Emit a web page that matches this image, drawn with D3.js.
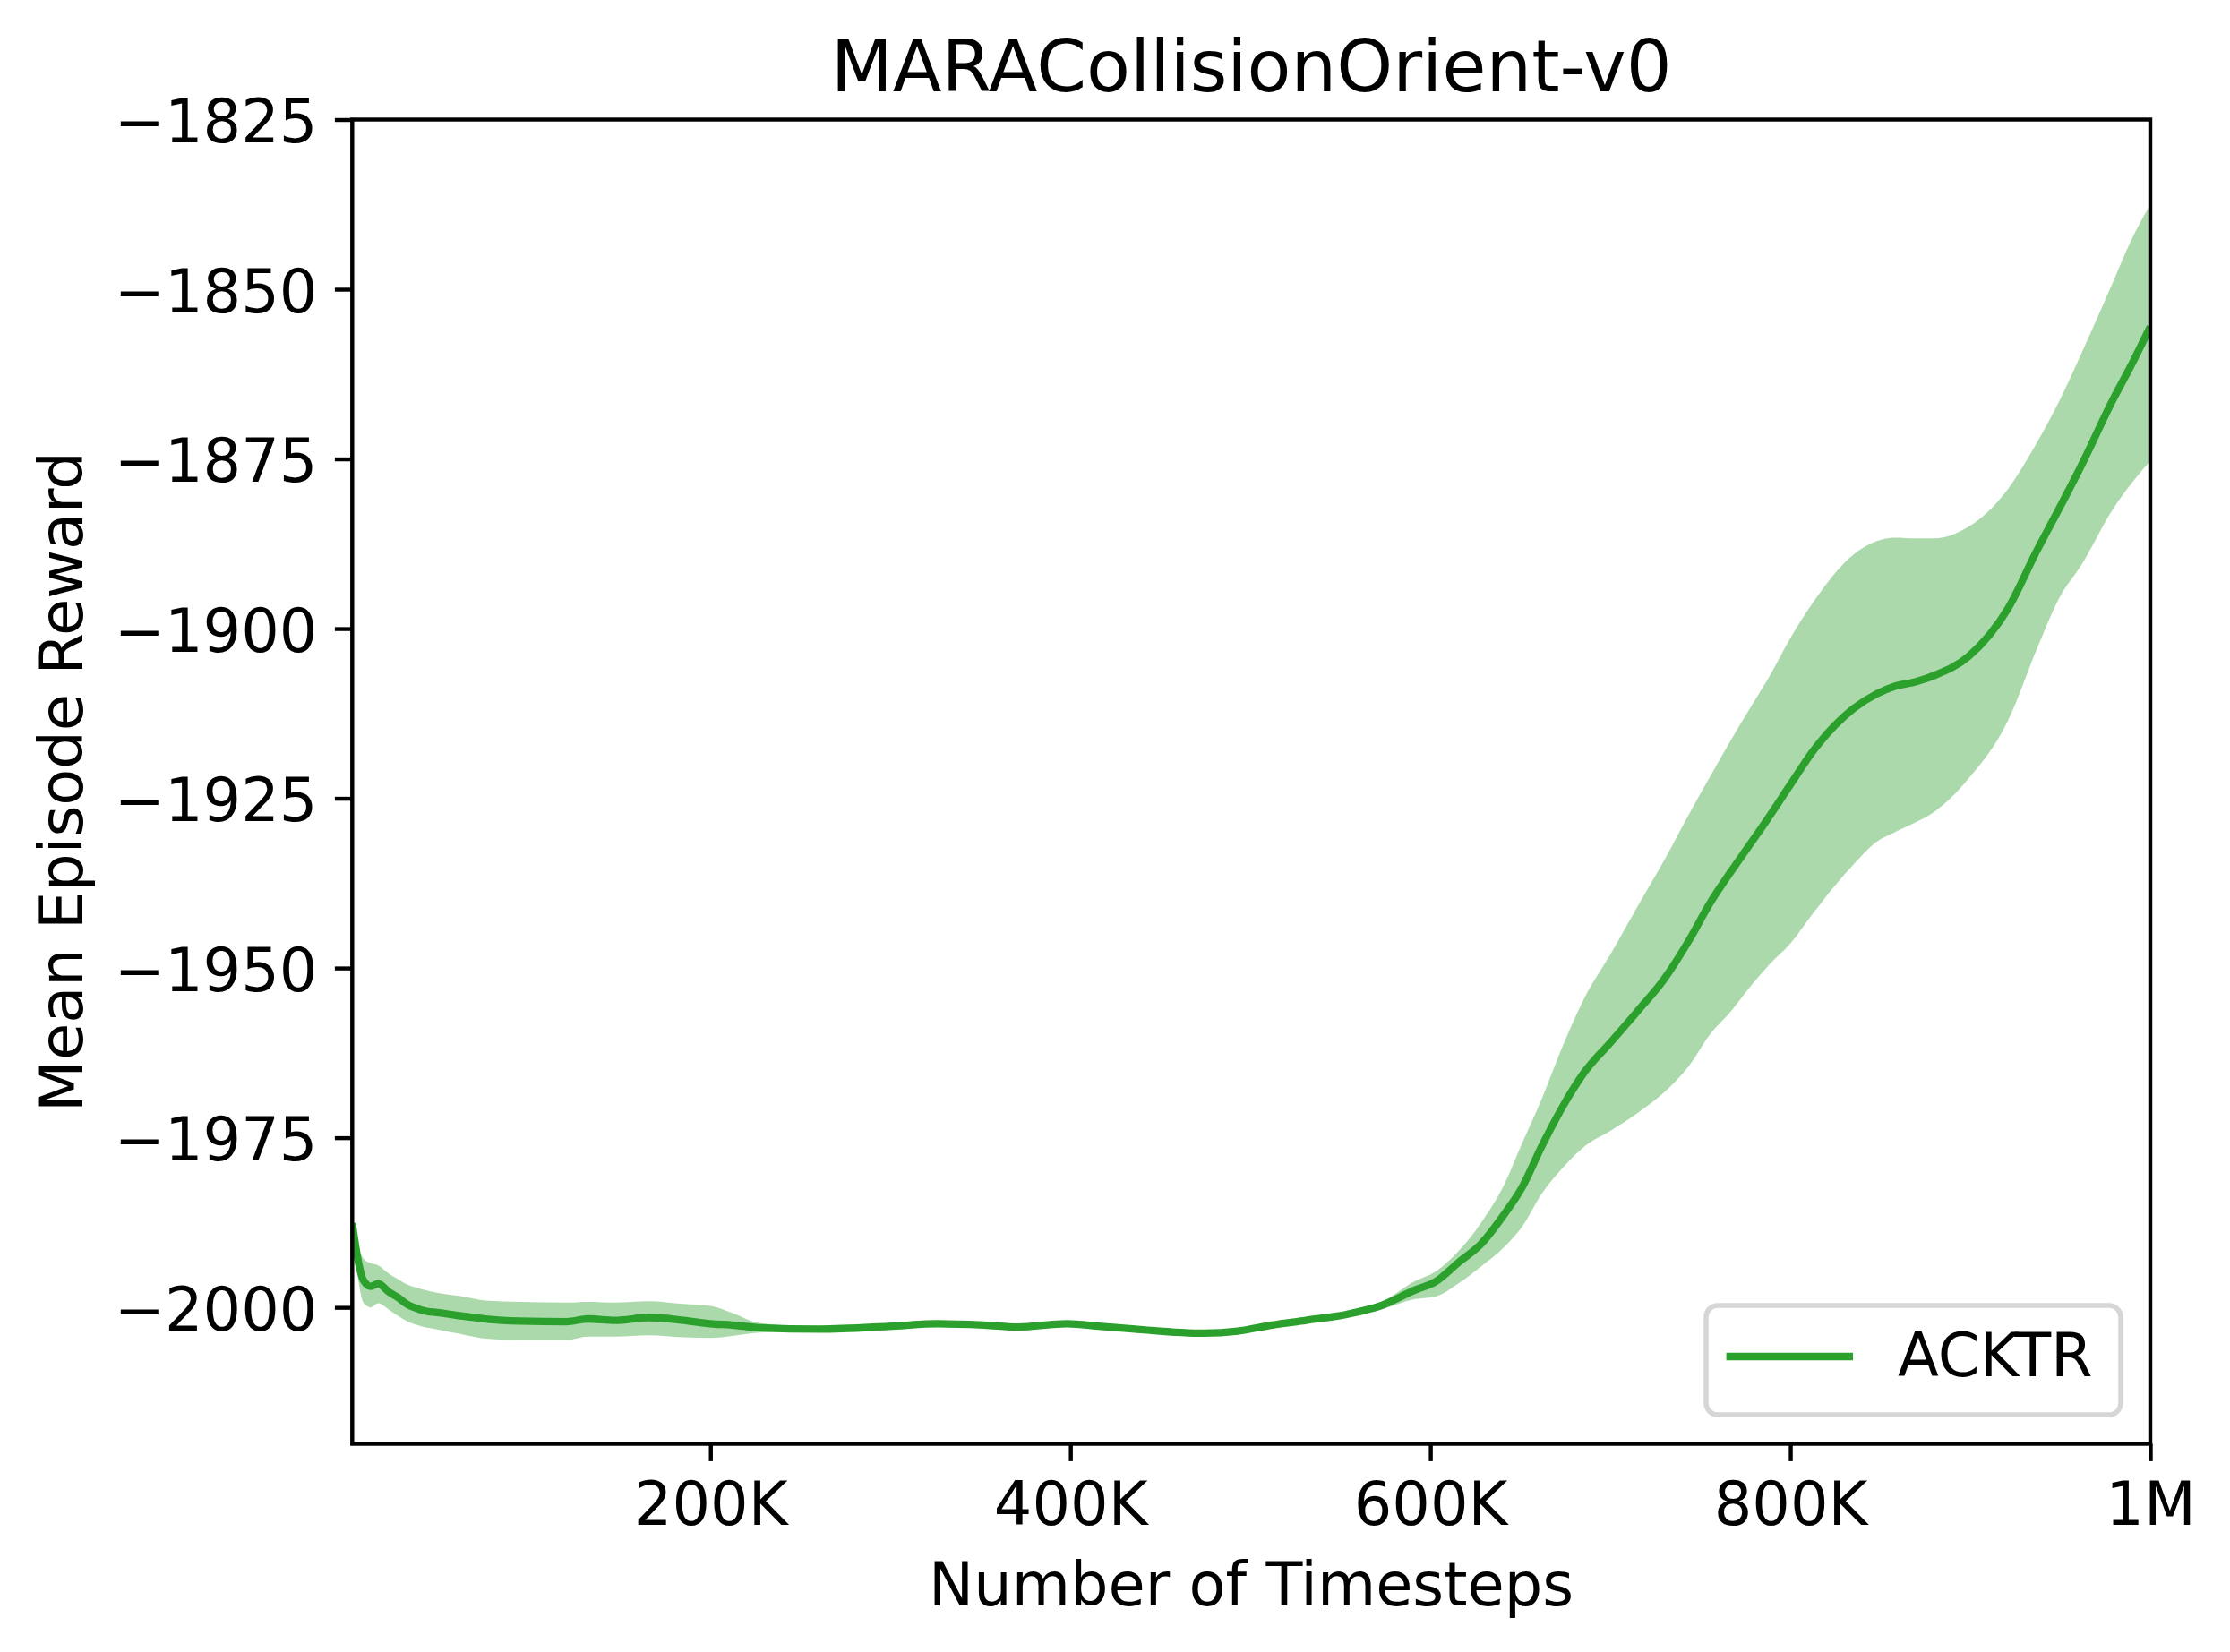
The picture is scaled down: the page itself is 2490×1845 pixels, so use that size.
<!DOCTYPE html>
<html>
<head>
<meta charset="utf-8">
<script src="https://d3js.org/d3.v7.min.js"></script>
<style>
  body { margin: 0; background: #fff; }
  text { font-family: "DejaVu Sans", sans-serif; fill: #000; }
</style>
</head>
<body>
<div id="svgcanvas"></div>
<script>
// MARACollisionOrient-v0 - ACKTR learning curve

var timesteps = [1, 4.7, 7.2, 11.3, 15.4, 21.2, 26.2, 31.2, 39.5, 49.4, 62.7, 75, 94, 120, 132, 147, 166, 185,
  200, 212, 227, 261, 299, 326, 352, 371, 398, 417, 436, 474, 493, 512, 531, 554, 573, 591, 603, 616, 628,
  641, 651, 662, 674, 686, 700, 715, 730, 744, 755, 767, 777, 788, 800, 813, 835, 848, 858, 870, 880, 899,
  921, 937, 949, 962, 979, 989, 1000];

// mean episode reward
var meanReward = [-1987.6, -1993.7, -1996.0, -1996.9, -1996.5, -1997.7, -1998.5, -1999.5, -2000.4, -2000.8,
  -2001.3, -2001.7, -2002.0, -2002.1, -2001.7, -2001.9, -2001.5, -2001.9, -2002.4, -2002.6, -2003.0, -2003.2,
  -2002.8, -2002.4, -2002.6, -2002.9, -2002.4, -2002.8, -2003.2, -2003.8, -2003.5, -2002.6, -2001.9, -2001.0,
  -1999.7, -1997.5, -1996.2, -1993.3, -1990.7, -1986.3, -1982.3, -1976.2, -1970.2, -1965.2, -1961.0, -1956.4,
  -1951.6, -1945.8, -1940.6, -1935.8, -1932.0, -1927.8, -1923.0, -1917.9, -1911.8, -1909.6, -1908.5, -1907.8,
  -1906.9, -1904.1, -1897.0, -1888.5, -1882.5, -1875.8, -1866.4, -1861.4, -1855.5];

// upper and lower edge of the shaded band
var upperReward = [-1987.6, -1991.4, -1992.8, -1993.5, -1993.8, -1995.0, -1995.8, -1996.6, -1997.3, -1997.9,
  -1998.4, -1999.0, -1999.2, -1999.3, -1999.2, -1999.3, -1999.1, -1999.5, -1999.8, -2000.8, -2002.3, -2002.9,
  -2002.5, -2002.1, -2002.3, -2002.6, -2002.1, -2002.5, -2002.9, -2003.5, -2003.2, -2002.3, -2001.6, -2000.6,
  -1999.2, -1996.2, -1994.7, -1991.6, -1987.6, -1981.9, -1975.8, -1969.2, -1961.2, -1954.2, -1948.0, -1941.0,
  -1934.1, -1927.2, -1922.0, -1916.4, -1912.0, -1907.2, -1901.4, -1896.0, -1889.1, -1887.1, -1886.6, -1886.7,
  -1886.7, -1885.0, -1879.4, -1872.6, -1866.7, -1859.3, -1849.1, -1843.0, -1837.5];

var lowerReward = [-1987.6, -1996.5, -1999.3, -2000.0, -1999.4, -2000.3, -2001.2, -2002.0, -2002.8, -2003.3,
  -2004.0, -2004.6, -2004.8, -2004.8, -2004.3, -2004.3, -2004.1, -2004.4, -2004.5, -2004.2, -2003.7, -2003.5,
  -2003.1, -2002.7, -2002.9, -2003.2, -2002.7, -2003.1, -2003.5, -2004.1, -2003.8, -2002.9, -2002.2, -2001.4,
  -2000.3, -1998.8, -1998.4, -1996.4, -1994.0, -1991.1, -1988.1, -1983.2, -1979.3, -1976.2, -1974.0, -1971.4,
  -1968.3, -1964.3, -1959.9, -1956.4, -1953.0, -1949.6, -1946.4, -1941.8, -1934.8, -1931.4, -1930.0, -1928.5,
  -1927.0, -1922.1, -1913.5, -1903.0, -1895.7, -1890.5, -1882.5, -1878.8, -1875.3];

// tick positions and labels
var xTicks = [200000, 400000, 600000, 800000, 1000000];
var xTickLabels = ["200K", "400K", "600K", "800K", "1M"];
var yTicks = [-2000, -1975, -1950, -1925, -1900, -1875, -1850, -1825];

var seriesName = "ACKTR";
var green = "#2ca02c";

//Canvas size and plot box (note: "top" is taken by window.top, so prefix them)
var WIDTH = 2490, HEIGHT = 1845;
var plotLeft = 393.3, plotRight = 2401, plotTop = 133.5, plotBottom = 1612.5;
var fs = 67;           // 12pt at 400 dpi
var tickLen = 19.4, lw = 4.44;

var svg = d3.select("#svgcanvas").append("svg")
            .attr("width", WIDTH)
            .attr("height", HEIGHT);

var x = d3.scaleLinear().domain([1000, 1000000]).range([plotLeft, plotRight]);
var y = d3.scaleLinear().domain([-2020.1, -1825]).range([plotBottom, plotTop]);

var points = timesteps.map(function(t, i) {
  return {t: t * 1000, m: meanReward[i], hi: upperReward[i], lo: lowerReward[i]};
});

svg.append("defs").append("clipPath").attr("id", "plotclip")
  .append("rect").attr("x", plotLeft).attr("y", plotTop)
  .attr("width", plotRight - plotLeft).attr("height", plotBottom - plotTop);

var plot = svg.append("g").attr("clip-path", "url(#plotclip)");

// shaded band
plot.append("path")
  .datum(points)
  .attr("d", d3.area().curve(d3.curveMonotoneX)
    .x(function(d) { return x(d.t); })
    .y0(function(d) { return y(d.lo); })
    .y1(function(d) { return y(d.hi); }))
  .style("fill", green)
  .style("fill-opacity", 0.4);

// mean line
plot.append("path")
  .datum(points)
  .attr("d", d3.line().curve(d3.curveMonotoneX)
    .x(function(d) { return x(d.t); })
    .y(function(d) { return y(d.m); }))
  .style("fill", "none")
  .style("stroke", green)
  .style("stroke-width", 8.3)
  .style("stroke-linejoin", "round");

// axes
var xAxis = d3.axisBottom(x).tickValues(xTicks)
  .tickFormat(function(d, i) { return xTickLabels[i]; })
  .tickSize(tickLen).tickPadding(15).tickSizeOuter(0);
var yAxis = d3.axisLeft(y).tickValues(yTicks)
  .tickFormat(function(d) { return String(d).replace("-", "\u2212"); })
  .tickSize(tickLen).tickPadding(19.4).tickSizeOuter(0);

var gx = svg.append("g").attr("transform", "translate(0," + plotBottom + ")").call(xAxis);
var gy = svg.append("g").attr("transform", "translate(" + plotLeft + ",0)").call(yAxis);

[gx, gy].forEach(function(g) {
  g.select(".domain").remove();
  g.selectAll(".tick line").style("stroke", "#000").style("stroke-width", lw);
  g.selectAll(".tick text").style("font-size", fs + "px").style("fill", "#000")
    .attr("font-family", "DejaVu Sans");
});
gx.selectAll(".tick text").attr("dy", null).attr("y", 1703 - plotBottom);
gy.selectAll(".tick text").attr("dy", null).attr("y", 25).attr("x", -(tickLen + 19.4));

// frame
svg.append("rect")
  .attr("x", plotLeft).attr("y", plotTop)
  .attr("width", plotRight - plotLeft).attr("height", plotBottom - plotTop)
  .style("fill", "none").style("stroke", "#000").style("stroke-width", lw)
  .style("stroke-linecap", "square");

// title and axis labels
svg.append("text")
  .attr("x", (plotLeft + plotRight) / 2).attr("y", 101.5)
  .attr("text-anchor", "middle")
  .style("font-size", "80px")
  .text("MARACollisionOrient-v0");

svg.append("text")
  .attr("x", (plotLeft + plotRight) / 2).attr("y", 1792.7)
  .attr("text-anchor", "middle")
  .style("font-size", fs + "px")
  .text("Number of Timesteps");

svg.append("text")
  .attr("transform", "translate(91.7," + (plotTop + plotBottom) / 2 + ") rotate(-90)")
  .attr("text-anchor", "middle")
  .style("font-size", fs + "px")
  .text("Mean Episode Reward");

// legend
var legend = svg.append("g");
legend.append("rect")
  .attr("x", 1905).attr("y", 1458)
  .attr("width", 2368 - 1905).attr("height", 1580 - 1458)
  .attr("rx", 13).attr("ry", 13)
  .style("fill", "#fff").style("stroke", "#d6d6d6").style("stroke-width", 5.5);
legend.append("line")
  .attr("x1", 1927.6).attr("x2", 2069).attr("y1", 1515).attr("y2", 1515)
  .style("stroke", green).style("stroke-width", 8.3);
legend.append("text")
  .attr("x", 2119).attr("y", 1537)
  .style("font-size", fs + "px")
  .text(seriesName);
</script>
</body>
</html>
